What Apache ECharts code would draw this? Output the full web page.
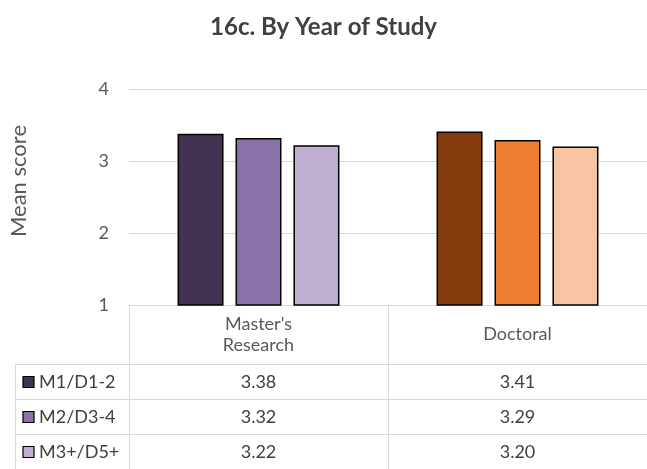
<!DOCTYPE html>
<html>
<head>
<meta charset="utf-8">
<script src="https://cdn.jsdelivr.net/npm/echarts@6/dist/echarts.min.js"></script>
<style>
  html, body { margin: 0; padding: 0; background: #fff; }
  #chart { width: 647px; height: 469px; }
</style>
</head>
<body>
<div id="chart"></div>
<script>
// data
const categories = ["Master's\nResearch", 'Doctoral']
const seriesNames = ['M1/D1-2', 'M2/D3-4', 'M3+/D5+']
const m1d12 = [3.38, 3.41]
const m2d34 = [3.32, 3.29]
const m3d5 = [3.22, 3.20]
const yTicks = [1, 2, 3, 4]

// colours: purple shades for Master's, orange shades for Doctoral
const purples = ['#433352', '#8a71a8', '#bfafd0']
const oranges = ['#843c0c', '#ed7d31', '#f7c5a5']

const FONT = 'Lato'
const TXT = '#404040'
const LINE = '#d9d9d9'

const myChart = echarts.init(document.querySelector('#chart'))
const allValues = [m1d12, m2d34, m3d5]

const option = {
    animation: false,
    title: {
        text: '16c. By Year of Study',
        left: 'center',
        top: 10,
        textStyle: { fontFamily: FONT, fontSize: 24, fontWeight: 'bold', color: TXT }
    },
    grid: { left: 129, width: 520, top: 89, bottom: 164 },
    xAxis: {
        type: 'category',
        data: categories,
        axisLine: { lineStyle: { color: LINE } },
        axisTick: { show: false },
        axisLabel: { show: false }
    },
    yAxis: {
        type: 'value',
        min: yTicks[0],
        max: yTicks[yTicks.length - 1],
        interval: 1,
        axisLine: { show: false },
        axisTick: { show: false },
        axisLabel: { color: '#595959', fontFamily: FONT, fontSize: 18, margin: 20 },
        splitLine: { lineStyle: { color: LINE, width: 1 } }
    },
    series: seriesNames.map((name, i) => ({
        name,
        type: 'bar',
        barWidth: 46,
        barGap: '26%',
        data: allValues[i].map((v, j) => ({
            value: v,
            itemStyle: { color: j === 0 ? purples[i] : oranges[i] }
        })),
        itemStyle: { borderColor: '#000', borderWidth: 1.5 }
    }))
}
myChart.setOption(option)

// NOTE - data table under the plot, placed from the axis scales
const buildTable = () => {
    const c0 = myChart.convertToPixel({ xAxisIndex: 0 }, 0)
    const c1 = myChart.convertToPixel({ xAxisIndex: 0 }, 1)
    const band = c1 - c0
    const xStart = c0 - band / 2
    const xEnd = c1 + band / 2
    const yTop = myChart.convertToPixel({ yAxisIndex: 0 }, yTicks[0])
    const headH = 59
    const rowH = 35
    const leftX = 15
    const yHead = yTop + headH
    const yBottom = yHead + rowH * seriesNames.length
    const els = []
    const line = (x1, y1, x2, y2) => els.push({
        type: 'line',
        shape: { x1, y1, x2, y2 },
        style: { stroke: LINE, lineWidth: 1 },
        silent: true
    })
    // horizontal rules
    for (let r = 0; r <= seriesNames.length; r++) {
        const y = Math.round(yHead + rowH * r) + 0.5
        line(leftX, y, xEnd, y)
    }
    // vertical rules
    line(leftX + 0.5, yHead, leftX + 0.5, yBottom)
    line(Math.round(xStart) + 0.5, yTop, Math.round(xStart) + 0.5, yBottom)
    line(Math.round(xStart + band) + 0.5, yTop, Math.round(xStart + band) + 0.5, yBottom)

    // header
    categories.forEach((cat, j) => {
        els.push({
            type: 'text',
            x: xStart + band * (j + 0.5),
            y: yTop + headH / 2,
            style: {
                text: cat, fill: '#595959', font: `18px ${FONT}`,
                align: 'center', verticalAlign: 'middle', lineHeight: 21
            },
            silent: true
        })
    })
    // rows
    seriesNames.forEach((name, i) => {
        const cy = yHead + rowH * (i + 0.5)
        els.push({
            type: 'rect',
            shape: { x: 23, y: Math.round(cy) - 5.5, width: 11, height: 11 },
            style: { fill: purples[i], stroke: '#000', lineWidth: 1.2 },
            silent: true
        })
        els.push({
            type: 'text',
            x: 39,
            y: cy + 1,
            style: { text: name, fill: TXT, font: `18px ${FONT}`, verticalAlign: 'middle' },
            silent: true
        })
        allValues[i].forEach((v, j) => {
            els.push({
                type: 'text',
                x: xStart + band * (j + 0.5),
                y: cy + 1,
                style: {
                    text: v.toFixed(2), fill: TXT, font: `18px ${FONT}`,
                    align: 'center', verticalAlign: 'middle'
                },
                silent: true
            })
        })
    })
    // axis title
    els.push({
        type: 'text',
        x: 19,
        y: 181,
        rotation: Math.PI / 2,
        style: {
            text: 'Mean score', fill: '#595959', font: `22px ${FONT}`,
            align: 'center', verticalAlign: 'middle'
        },
        silent: true
    })
    myChart.setOption({ graphic: { elements: els } })
}
buildTable()
</script>
</body>
</html>
